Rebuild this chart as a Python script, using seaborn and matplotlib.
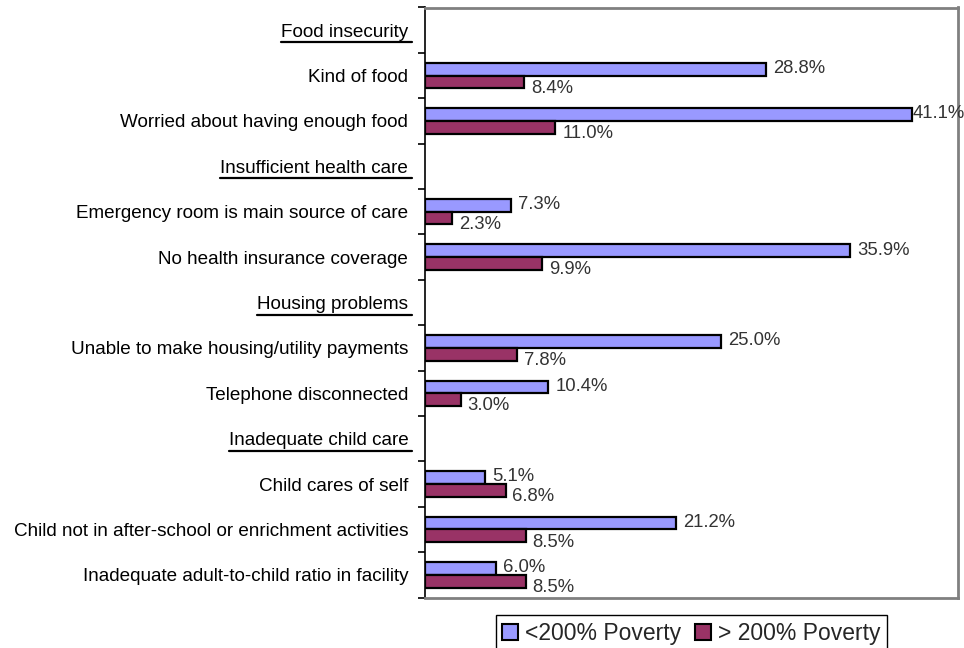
import numpy as np
import pandas as pd
import matplotlib
matplotlib.use("Agg")
import matplotlib.pyplot as plt
from matplotlib.lines import Line2D
import seaborn as sns

# Rows of the chart (section headers carry no values)
categories = [
    "Food insecurity",
    "Kind of food",
    "Worried about having enough food",
    "Insufficient health care",
    "Emergency room is main source of care",
    "No health insurance coverage",
    "Housing problems",
    "Unable to make housing/utility payments",
    "Telephone disconnected",
    "Inadequate child care",
    "Child cares of self",
    "Child not in after-school or enrichment activities",
    "Inadequate adult-to-child ratio in facility",
]
headers = ["Food insecurity", "Insufficient health care",
           "Housing problems", "Inadequate child care"]

below_200 = [np.nan, 28.8, 41.1, np.nan, 7.3, 35.9, np.nan, 25.0, 10.4, np.nan, 5.1, 21.2, 6.0]
above_200 = [np.nan, 8.4, 11.0, np.nan, 2.3, 9.9, np.nan, 7.8, 3.0, np.nan, 6.8, 8.5, 8.5]
series_names = ["<200% Poverty", "> 200% Poverty"]
colors = ["#9999FF", "#993366"]

df = pd.DataFrame({
    "item": categories * 2,
    "group": [series_names[0]] * len(categories) + [series_names[1]] * len(categories),
    "pct": below_200 + above_200,
})

sns.set_style("white")
plt.rcParams["font.family"] = ["Liberation Sans", "DejaVu Sans"]

fig = plt.figure(figsize=(9.64, 6.48), dpi=100)
ax = fig.add_axes([425 / 964, 1 - 597.5 / 648, (958 - 425) / 964, 590 / 648])

sns.barplot(data=df.dropna(), x="pct", y="item", hue="group", order=categories,
            hue_order=series_names, palette=colors, width=0.56,
            edgecolor="black", linewidth=1.6, saturation=1, ax=ax, legend=True)

ax.set_xlim(0, 45)
ax.set_ylim(len(categories) - 0.5, -0.5)
ax.set_xlabel("")
ax.set_ylabel("")
ax.set_xticks([])

# Frame: black value axis on the left, grey border elsewhere
for side in ["top", "right", "bottom"]:
    ax.spines[side].set_visible(True)
    ax.spines[side].set_color("#808080")
    ax.spines[side].set_linewidth(2)
ax.spines["left"].set_color("black")
ax.spines["left"].set_linewidth(1.2)

# Category labels centred on rows, tick marks between rows
ax.tick_params(axis="y", which="major", length=0, pad=12, labelsize=13.6, labelcolor="black")
ax.set_yticks(np.arange(-0.5, len(categories) + 0.5, 1), minor=True)
ax.tick_params(axis="y", which="minor", length=5, width=1.2, color="black", direction="out", left=True)

# Value labels at the bar ends (pulled in tight when close to the right edge)
fig.canvas.draw()
renderer = fig.canvas.get_renderer()
for ci, cont in enumerate(ax.containers):
    dy = 0.5 if ci == 0 else -4.5
    for bar in cont:
        w = bar.get_width()
        if np.isnan(w):
            continue
        ann = ax.annotate(f"{w:.1f}%", xy=(w, bar.get_y() + bar.get_height() / 2),
                          xytext=(5, dy), textcoords="offset points",
                          ha="left", va="center", fontsize=13.3, color="#333333",
                          annotation_clip=False)
        if ann.get_window_extent(renderer).x1 > fig.bbox.width - 1:
            ann.set_position((0.5, dy))

# Legend below the plot
ax.get_legend().remove()
handles = [plt.Rectangle((0, 0), 1, 1, facecolor=c, edgecolor="black", linewidth=1.5) for c in colors]
leg = fig.legend(handles, series_names, loc="upper center",
                 bbox_to_anchor=(691.5 / 964, 1 - 615 / 648), ncol=2, fontsize=16.5,
                 frameon=True, fancybox=False, framealpha=1, edgecolor="black",
                 handlelength=0.7, handleheight=0.7, handletextpad=0.3,
                 columnspacing=0.6, borderpad=0.3, borderaxespad=0)
leg.get_frame().set_linewidth(1.0)

# Underline the section headers
fig.canvas.draw()
inv = fig.transFigure.inverted()
for lab in ax.get_yticklabels():
    if lab.get_text() in headers:
        bb = lab.get_window_extent(renderer)
        y = bb.y0 - 1.5
        (x0, yf), (x1, _) = inv.transform([(bb.x0, y), (bb.x1 + 4, y)])
        fig.add_artist(Line2D([x0, x1], [yf, yf], color="black", linewidth=1.6,
                              transform=fig.transFigure))

fig.savefig("out.png", dpi=100)
